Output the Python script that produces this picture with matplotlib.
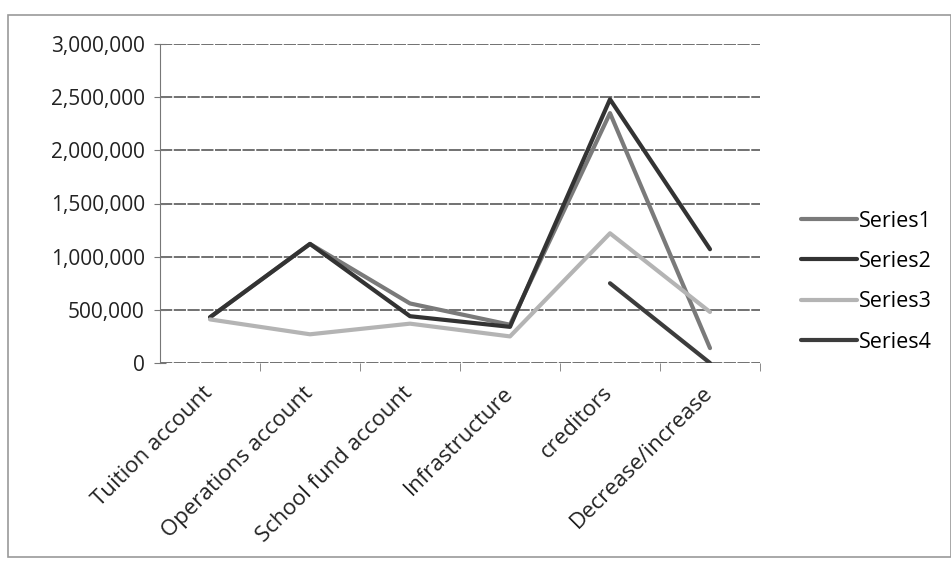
import numpy as np
import matplotlib.pyplot as plt
from matplotlib.patches import Rectangle
from matplotlib.ticker import FuncFormatter
from matplotlib.transforms import ScaledTranslation

# categories and series
categories = ["Tuition account", "Operations account", "School fund account",
              "Infrastructure", "creditors", "Decrease/increase"]
series1 = [430000, 1120000, 560000, 360000, 2350000, 140000]
series2 = [430000, 1120000, 440000, 340000, 2480000, 1070000]
series3 = [410000, 270000, 370000, 250000, 1220000, 480000]
series4 = [np.nan, np.nan, np.nan, np.nan, 750000, 0]
names = ["Series1", "Series2", "Series3", "Series4"]
colors = ["#7a7a7a", "#333333", "#b4b4b4", "#3c3c3c"]

plt.rcParams["font.family"] = ["Open Sans", "DejaVu Sans"]

fig = plt.figure(figsize=(9.51, 5.63), dpi=100)
W, H = 951, 563
ax = fig.add_axes([160 / W, 1 - 363 / H, 600 / W, 319 / H])

# chart area border
fig.patches.append(Rectangle((8 / W, 1 - 557 / H), 943 / W, 542 / H,
                             transform=fig.transFigure, fill=False,
                             edgecolor="#9a9a9a", linewidth=1.2))

x = np.arange(len(categories))
for vals, name, c in zip([series1, series2, series3, series4], names, colors):
    ax.plot(x, vals, color=c, linewidth=3, label=name, solid_capstyle="round")

ax.set_xlim(-0.5, len(categories) - 0.5)
ax.set_ylim(0, 3000000)
ax.set_yticks(np.arange(0, 3000001, 500000))
ax.yaxis.set_major_formatter(FuncFormatter(lambda v, p: f"{int(v):,}"))
ax.grid(axis="y", color="#4a4a4a", linewidth=1.1, linestyle=(0, (8, 1)))
ax.set_axisbelow(True)

ax.set_xticks(x)
ax.set_xticklabels(categories, rotation=45, ha="right", va="top",
                   rotation_mode="anchor", fontsize=16, color="#222222")
ax.set_xticks(np.arange(0.5, len(categories), 1.0), minor=True)
ax.tick_params(axis="x", which="major", length=0, pad=14)
ax.tick_params(axis="x", which="minor", length=6, direction="out", color="#777777")
ax.tick_params(axis="y", length=8, direction="inout", color="#777777",
               labelsize=15, labelcolor="#222222", pad=7)
shift = ScaledTranslation(-0.08, 0, fig.dpi_scale_trans)
for lbl in ax.get_xticklabels():
    lbl.set_transform(lbl.get_transform() + shift)

for s in ["top", "right", "bottom"]:
    ax.spines[s].set_visible(False)
ax.spines["left"].set_color("#777777")

fig.legend(loc="upper left", bbox_to_anchor=(792 / W, 1 - 202 / H),
           frameon=False, fontsize=15.5, handlelength=2.6, handletextpad=0.1,
           labelspacing=0.9, borderaxespad=0)

fig.savefig("out.png", dpi=100)
